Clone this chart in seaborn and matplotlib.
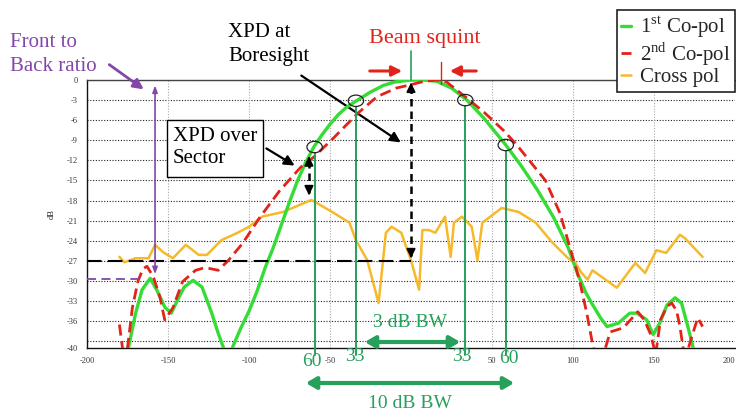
import numpy as np
import pandas as pd
import matplotlib
matplotlib.use("Agg")
import matplotlib.pyplot as plt
import matplotlib.transforms as mtransforms
from matplotlib.patches import Ellipse, Rectangle
import seaborn as sns

# 1st Co-pol (green solid)
copol1_angle = [-180, -177, -174, -170, -166, -161, -157, -152, -148, -144, -140, -134.5,
                -129, -123, -119, -116, -113, -110, -105, -100, -95, -90, -85, -80, -75,
                -70, -65, -60, -55, -50, -45, -40, -33, -25, -17, -10, 0, 8, 16, 25, 34.5,
                45, 58.5, 68, 78, 88, 97, 103, 108, 112, 117, 121, 128, 135, 139.5, 145.5,
                149.5, 153.5, 158, 163, 167, 171, 173.5, 176, 180]
copol1_db = [-47, -43, -39.5, -34.8, -31.3, -29.6, -31.3, -33.9, -34.8, -32.8, -30.9, -29.9,
             -30.9, -34.8, -37.8, -39.8, -43, -39.8, -37, -34.5, -31.5, -28, -25, -21.6, -18.2,
             -15, -12.3, -10, -8.2, -6.6, -5.2, -4.1, -3, -1.8, -0.8, -0.3, 0, 0, -0.2, -1.2, -3,
             -5.7, -9.7, -12.8, -16.4, -20.5, -25, -29, -31.8, -33.5, -35.5, -36.8, -36.3, -34.8,
             -34.8, -35.8, -38, -36.3, -33.6, -32.5, -33.3, -36.9, -39.3, -42, -45]

# 2nd Co-pol (red dashed)
copol2_angle = [-180, -177, -175, -172, -168.5, -165.5, -163, -159, -155, -152, -147, -141,
                -133, -127, -119, -113, -104, -93, -81, -68, -60, -48, -33, -21, -9, 0, 8,
                16, 22, 34.5, 45, 57, 65, 73, 83, 92, 98, 104, 108.5, 112, 115, 118, 120,
                123, 131, 140, 144, 148, 151, 154, 158, 161, 164, 166, 168, 170, 174, 177, 180]
copol2_db = [-36.5, -42, -40, -34, -30, -28.2, -27.8, -29.4, -32.4, -35.8, -34, -30.1,
             -28.4, -28, -28.4, -27, -24.4, -20.4, -16.5, -13, -11.5, -8.7, -5, -2.5, -1.2, -0.7,
             -0.2, 0, -0.3, -2.7, -4.8, -7.5, -9.6, -12, -15, -19.9, -24.9, -29.9, -34.8, -39.3,
             -42, -42, -40, -37.6, -37, -34.6, -35.8, -38, -41, -35.8, -33.8, -33.3, -34.5, -36.8,
             -40, -41, -37.8, -35.5, -36.8]

# Cross pol (yellow)
cross_angle = [-180, -177, -170, -162, -158, -153, -147, -139, -131, -126, -117, -107, -100,
               -92, -79, -61.5, -48.6, -38, -34, -27, -20, -15.5, -12, -6, 0, 5, 7, 11, 15, 21,
               24.5, 26.5, 31.5, 37.5, 41, 44, 56, 66.5, 77, 87, 97, 101.5, 105, 109, 112, 127,
               138.5, 144.5, 151.5, 157.5, 166, 169, 180]
cross_db = [-26.4, -27.2, -26.6, -26.6, -24.6, -25.7, -26.6, -24.6, -26.1, -26.1, -23.9, -22.8,
            -21.9, -20.4, -19.7, -17.9, -19.7, -21.3, -23.9, -26.9, -33.3, -22.8, -21.9, -22.8,
            -26.9, -31.3, -22.4, -22.4, -22.8, -20.4, -26.4, -21.3, -20.4, -21.9, -26.9, -21.3,
            -19.1, -19.7, -21.3, -24.2, -26.6, -27.3, -28.7, -29.8, -28.4, -31, -27.3, -28.8,
            -25.4, -25.8, -23.1, -23.6, -26.4]

series_names = ["1$^{\\rm st}$ Co-pol", "2$^{\\rm nd}$ Co-pol", "Cross pol"]

x_ticks = [-200, -150, -100, -50, 0, 50, 100, 150, 200]
x_tick_labels = ["-200", "-150", "-100", "-50", "", "50", "100", "150", "200"]
y_ticks = [0, -3, -6, -9, -12, -15, -18, -21, -24, -27, -30, -33, -36, -39, -40]
y_tick_labels = ["0", "-3", "-6", "-9", "-12", "-15", "-18", "-21", "-24", "-27", "-30",
                 "-33", "-36", "", "-40"]

GREEN = "#35dc35"
RED = "#e2231a"
YELLOW = "#f6b92a"
TEAL = "#26a05b"
PURPLE = "#8446a8"

sns.set_style("white")
plt.rcParams["font.family"] = ["Liberation Serif", "DejaVu Serif"]
plt.rcParams["mathtext.fontset"] = "custom"
plt.rcParams["mathtext.rm"] = "Liberation Serif"

df1 = pd.DataFrame({"angle": copol1_angle, "dB": copol1_db, "series": series_names[0]})
df2 = pd.DataFrame({"angle": copol2_angle, "dB": copol2_db, "series": series_names[1]})
df3 = pd.DataFrame({"angle": cross_angle, "dB": cross_db, "series": series_names[2]})

fig = plt.figure(figsize=(7.36, 4.12), dpi=100)
ax = fig.add_axes([87 / 736, 64 / 412, 648 / 736, 268 / 412])

# pixel (from top-left of the image) transform for the hand-drawn annotations
pix = mtransforms.Affine2D().scale(1 / 736, -1 / 412).translate(0, 1) + fig.transFigure

# grid
for yv in y_ticks[:-1]:
    ax.axhline(yv, color="#222222", lw=0.8, ls=(0, (1, 1.5)), zorder=0)
for xv in [-150, -100, -50, 50, 100, 150]:
    ax.axvline(xv, color="#aaaaaa", lw=0.8, ls=(0, (1, 1.5)), zorder=0)

sns.lineplot(data=df3, x="angle", y="dB", color=YELLOW, lw=1.8, label=series_names[2],
             estimator=None, ax=ax, zorder=3)
sns.lineplot(data=df1, x="angle", y="dB", color=GREEN, lw=2.4, label=series_names[0],
             estimator=None, ax=ax, zorder=4)
sns.lineplot(data=df2, x="angle", y="dB", color=RED, lw=2.0, label=series_names[1],
             estimator=None, ax=ax, zorder=5)
ax.lines[-1].set_dashes((4, 2))

ax.set_xlim(-200, 200)
ax.set_ylim(-40, 0)
ax.set_xticks(x_ticks)
ax.set_xticklabels(x_tick_labels)
ax.get_xticklabels()[-1].set_ha("right")
ax.set_yticks(y_ticks)
ax.set_yticklabels(y_tick_labels)
ax.tick_params(labelsize=6, colors="#333333", length=3, width=0.8)
ax.set_xlabel("")
ax.set_ylabel("dB", fontsize=6, labelpad=8)
for s in ["left", "bottom"]:
    ax.spines[s].set_color("#111111")
    ax.spines[s].set_linewidth(1.0)
ax.spines["top"].set_color("#444444")
ax.spines["top"].set_linewidth(1.0)
ax.spines["right"].set_visible(False)

# legend box
h, l = ax.get_legend_handles_labels()
order = [1, 2, 0]
leg = ax.legend([h[i] for i in order], [l[i] for i in order], loc="upper right",
                bbox_to_anchor=(735 / 736, 1 - 10 / 412), bbox_transform=fig.transFigure,
                frameon=True, fancybox=False, edgecolor="#222222", handlelength=0.45,
                handletextpad=0.45, borderpad=0.2, labelspacing=0.0, borderaxespad=0,
                prop={"family": "Liberation Serif", "size": 15})
leg.get_frame().set_linewidth(1.2)
leg.get_frame().set_alpha(1)

# 3 dB / 10 dB beamwidth markers
for xv, yv in [(-59.5, -10), (-34, -3.1), (33.5, -3), (58.5, -9.7)]:
    ax.plot([xv, xv], [yv - 0.9, -41], color=TEAL, lw=1.4, clip_on=False, zorder=6)
    ax.add_patch(Ellipse((xv, yv), 9.5, 1.7, fill=False, ec="#222222", lw=0.9, zorder=7))

for txt, x, y in [("60", 312, 362), ("33", 355, 357), ("33", 462, 357), ("60", 509, 359)]:
    fig.text(x, y, txt, transform=pix, color=TEAL, fontsize=14, ha="center", va="center")

fig.text(410, 323, "3 dB BW", transform=pix, color=TEAL, fontsize=14, ha="center", va="center")
fig.text(410, 404, "10 dB BW", transform=pix, color=TEAL, fontsize=14, ha="center", va="center")
arr_kw = dict(arrowstyle="<|-|>,head_length=0.6,head_width=0.35", color=TEAL, lw=3)
ax.annotate("", xy=(463, 342), xycoords=pix, xytext=(362, 342), textcoords=pix,
            arrowprops=arr_kw, annotation_clip=False)
ax.annotate("", xy=(517, 383), xycoords=pix, xytext=(303, 383), textcoords=pix,
            arrowprops=arr_kw, annotation_clip=False)

# XPD at boresight / over sector (dashed double arrows)
def dashed_double(x, y0, y1):
    ax.plot([x, x], [y0 + 0.8, y1 - 0.8], color="black", lw=1.8, dashes=(3, 2), zorder=8)
    ax.annotate("", xy=(x, y1), xytext=(x, y1 - 1.2),
                arrowprops=dict(arrowstyle="-|>,head_length=0.5,head_width=0.25",
                                color="black", lw=1.5), zorder=8)
    ax.annotate("", xy=(x, y0), xytext=(x, y0 + 1.2),
                arrowprops=dict(arrowstyle="-|>,head_length=0.5,head_width=0.25",
                                color="black", lw=1.5), zorder=8)

dashed_double(0, -27, 0)
dashed_double(-63, -17.6, -11)
ax.plot([-200, 0], [-27, -27], color="black", lw=1.5, dashes=(7, 3), zorder=8)

# front to back ratio
ax.plot([-200, -168], [-29.7, -29.7], color=PURPLE, lw=1.3, dashes=(5, 3), zorder=8)
ax.annotate("", xy=(-158, -0.4), xytext=(-158, -29.4),
            arrowprops=dict(arrowstyle="<|-|>,head_length=0.4,head_width=0.15",
                            color=PURPLE, lw=1.2), zorder=8)
fig.text(10, 33, "Front to\nBack ratio", transform=pix, color=PURPLE, fontsize=15,
         ha="left", va="top", linespacing=1.35)
ax.annotate("", xy=(146, 91), xycoords=pix, xytext=(107, 63), textcoords=pix,
            arrowprops=dict(arrowstyle="-|>,head_length=0.6,head_width=0.3", color=PURPLE,
                            lw=2), annotation_clip=False)

# XPD text and arrows
fig.text(228, 23, "XPD at\nBoresight", transform=pix, color="black", fontsize=15,
         ha="left", va="top", linespacing=1.35)
ax.annotate("", xy=(403, 144), xycoords=pix, xytext=(299, 74), textcoords=pix,
            arrowprops=dict(arrowstyle="-|>,head_length=0.6,head_width=0.3", color="black",
                            lw=1.6), annotation_clip=False)
fig.patches.append(Rectangle((167 / 736, 1 - 177 / 412), 96 / 736, 57 / 412,
                             transform=fig.transFigure, fc="white", ec="black", lw=1.0,
                             zorder=9))
fig.text(173, 127, "XPD over\nSector", transform=pix, color="black", fontsize=15,
         ha="left", va="top", linespacing=1.2, zorder=10)
ax.annotate("", xy=(297, 167), xycoords=pix, xytext=(264, 147), textcoords=pix,
            arrowprops=dict(arrowstyle="-|>,head_length=0.6,head_width=0.3", color="black",
                            lw=1.6), annotation_clip=False)

# beam squint
fig.text(425, 38, "Beam squint", transform=pix, color=RED, fontsize=16, ha="center",
         va="center")
ax.plot([0, 0], [4.3, 0], color=TEAL, lw=1.2, clip_on=False, zorder=8)
ax.plot([18.5, 18.5], [2.7, -0.6], color=RED, lw=1.0, clip_on=False, zorder=8)
red_kw = dict(arrowstyle="-|>,head_length=0.6,head_width=0.3", color=RED, lw=2.2)
ax.annotate("", xy=(405, 71), xycoords=pix, xytext=(367, 71), textcoords=pix,
            arrowprops=red_kw, annotation_clip=False)
ax.annotate("", xy=(447, 71), xycoords=pix, xytext=(479, 71), textcoords=pix,
            arrowprops=red_kw, annotation_clip=False)

fig.savefig("out.png", dpi=100)
